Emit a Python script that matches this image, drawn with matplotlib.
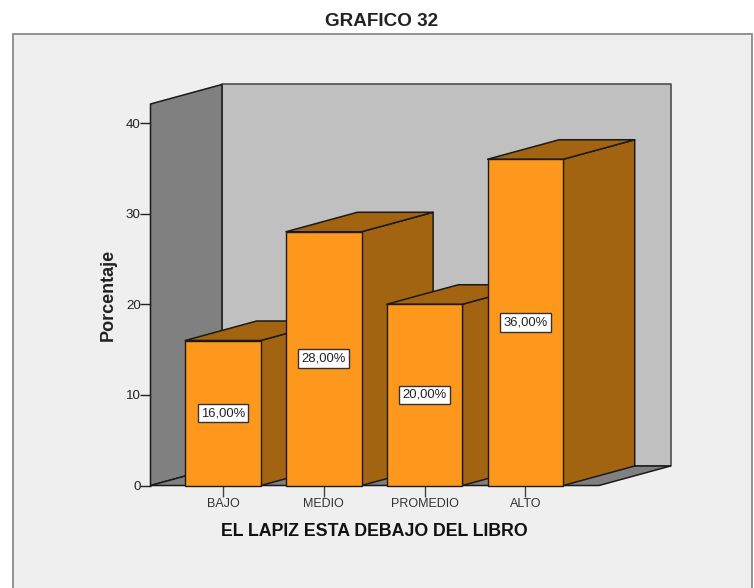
import matplotlib
matplotlib.use('Agg')
import matplotlib.pyplot as plt
from matplotlib.patches import Polygon, Rectangle

plt.rcParams['font.family'] = ['Liberation Sans', 'DejaVu Sans']

# Datos
categorias = ['BAJO', 'MEDIO', 'PROMEDIO', 'ALTO']
porcentajes = [16, 28, 20, 36]
etiquetas = ['16,00%', '28,00%', '20,00%', '36,00%']
ticks_y = [0, 10, 20, 30, 40]

W, H = 754, 588
fig = plt.figure(figsize=(W / 100, H / 100), dpi=100, facecolor='white')

# marco gris del grafico
fig.add_artist(Rectangle((12.5 / W, -0.01), (752 - 12.5) / W, (H - 33.5) / H + 0.01,
                         transform=fig.transFigure, facecolor='#EFEFEF',
                         edgecolor='#8A8A8A', linewidth=1.3, zorder=-1))
fig.text(382 / W, 1 - 21 / H, 'GRAFICO 32', ha='center', va='center', fontsize=13.6,
         color='#222222', fontweight='bold')

# el eje cubre el frente del piso: x 150.5-599, y 0 = 485.5 px, 40 = 123 px
px_left, px_right, px_bottom, px_top = 150.5, 599, 485.5, 123
ax = fig.add_axes([px_left / W, 1 - px_bottom / H, (px_right - px_left) / W, (px_bottom - px_top) / H])
ax.patch.set_visible(False)
paso = 100.8
ax.set_xlim((px_left - 223) / paso, (px_right - 223) / paso)
ax.set_ylim(0, 40)
x0, x1 = ax.get_xlim()

# profundidad 3D en unidades de datos
px_por_y = (px_bottom - px_top) / 40
dx = 71.5 / paso
dy = 19.5 / px_por_y
y_max = 42.1
ancho = 0.75

borde = '#1A1A1A'
kw = dict(clip_on=False, edgecolor=borde, linewidth=1.1, joinstyle='round')

# paredes y piso
ax.add_patch(Polygon([(x0 + dx, dy), (x1 + dx, dy), (x1 + dx, y_max + dy), (x0 + dx, y_max + dy)],
                     facecolor='#C0C0C0', zorder=1, **{**kw, 'edgecolor': '#444444'}))
ax.add_patch(Polygon([(x0, 0), (x0 + dx, dy), (x0 + dx, y_max + dy), (x0, y_max)],
                     facecolor='#808080', zorder=2, **kw))
ax.add_patch(Polygon([(x0, 0), (x1, 0), (x1 + dx, dy), (x0 + dx, dy)],
                     facecolor='#808080', zorder=2, **kw))

# barras de izquierda a derecha, cada una tapa el lateral de la anterior
for i, valor in enumerate(porcentajes):
    z = 3 + i
    der = i + ancho / 2
    izq = i - ancho / 2
    ax.add_patch(Polygon([(der, 0), (der + dx, dy), (der + dx, valor + dy), (der, valor)],
                         facecolor='#A26410', zorder=z, **kw))
    ax.add_patch(Polygon([(izq, valor), (der, valor), (der + dx, valor + dy), (izq + dx, valor + dy)],
                         facecolor='#A26410', zorder=z, **kw))
    ax.bar(i, valor, width=ancho, color='#FD981C', edgecolor=borde, linewidth=1.0, zorder=z, clip_on=False)

for i, (valor, texto) in enumerate(zip(porcentajes, etiquetas)):
    ax.text(i, valor / 2, texto, ha='center', va='center', fontsize=9.4, color='#222222', zorder=20,
            bbox=dict(boxstyle='square,pad=0.25', facecolor='white', edgecolor='#333333', linewidth=1.0))

for lado in ['top', 'right', 'left', 'bottom']:
    ax.spines[lado].set_visible(False)

ax.set_xticks(range(len(categorias)), categorias)
ax.set_yticks(ticks_y)
ax.tick_params(axis='x', length=8, width=1, color='#444444', labelsize=9, labelcolor='#333333', pad=1)
ax.tick_params(axis='y', length=8, width=1, color='#222222', labelsize=9.6, labelcolor='#222222', pad=-1)

fig.text(108 / W, 1 - 295 / H, 'Porcentaje', rotation=90, ha='center', va='center',
         fontsize=13, fontweight='bold', color='#222222')
fig.text(374 / W, 1 - 531 / H, 'EL LAPIZ ESTA DEBAJO DEL LIBRO', ha='center', va='center',
         fontsize=12.8, fontweight='bold', color='#111111')

fig.savefig('out.png', dpi=100)
